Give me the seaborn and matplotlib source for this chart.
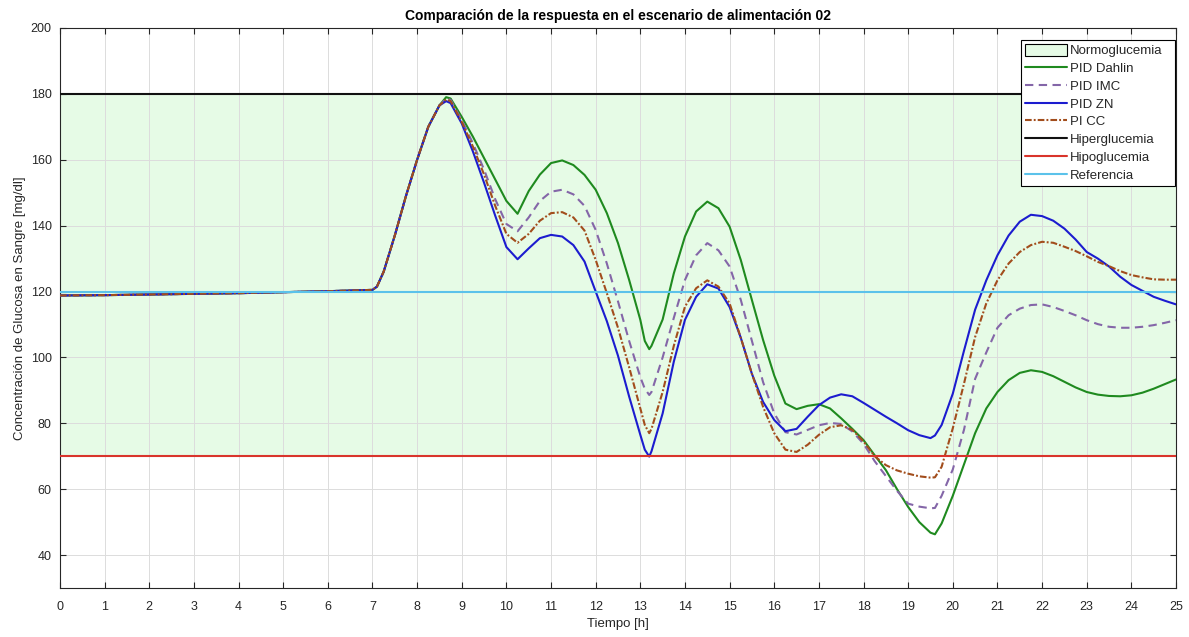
import matplotlib
matplotlib.use("Agg")
import matplotlib.pyplot as plt
import numpy as np
import pandas as pd
import seaborn as sns
from matplotlib.patches import Patch
from matplotlib.lines import Line2D

# Simulation time [h]
tiempo = [0, 1, 2, 3, 4, 5, 6, 7, 7.1,
          7.25, 7.5, 7.75, 8.0, 8.25, 8.5, 8.65,
          8.75, 9.0, 9.25, 9.5, 9.75, 10.0, 10.25, 10.5, 10.75, 11.0, 11.25, 11.5,
          11.75, 12.0, 12.25, 12.5, 12.75, 13.0, 13.1, 13.2,
          13.25, 13.5, 13.75, 14.0, 14.25, 14.5, 14.75, 15.0, 15.25, 15.5, 15.75,
          16.0, 16.25, 16.5, 16.75, 17.0, 17.25, 17.5, 17.75, 18.0, 18.25, 18.5,
          18.75, 19.0, 19.25, 19.5, 19.6,
          19.75, 20.0, 20.25, 20.5, 20.75, 21.0, 21.25, 21.5, 21.75, 22.0, 22.25,
          22.5, 22.75, 23.0, 23.25, 23.5, 23.75, 24.0, 24.25, 24.5, 24.75, 25.0]

# Blood glucose [mg/dl] for each controller
pid_dahlin = [118.8, 118.9, 119.1, 119.3, 119.5, 119.8, 120.1, 120.5, 121.5,
              126, 137, 149, 160, 170, 176.5, 179,
              178.6, 173, 167, 160.5, 154, 147.5, 143.6, 150.5, 155.5, 159, 159.8, 158.4,
              155.4, 150.9, 143.8, 134.7, 123.5, 111.4, 105, 102.5,
              103.5, 111.5, 125.5, 136.7, 144.3, 147.3, 145.3, 139.7, 129.6, 117.4, 105.3,
              94.5, 86, 84.3, 85.3, 85.8, 84.5, 81.5, 78.3, 74.9, 70.3, 65.8,
              60, 54.6, 50, 46.8, 46.3,
              49.6, 58, 67.5, 77, 84.5, 89.5, 93.1, 95.3, 96.1, 95.6, 94.3,
              92.6, 90.9, 89.5, 88.7, 88.3, 88.2, 88.5, 89.3, 90.5, 91.9, 93.3]

pid_imc = [118.8, 118.9, 119.1, 119.3, 119.5, 119.8, 120.1, 120.5, 121.5,
           126, 137, 149, 160, 170, 176.5, 178.6,
           178.2, 172, 165, 157, 148, 140.5, 138.3, 142.5, 147.5, 150.3, 150.9, 149.5,
           146, 138.7, 128.5, 117, 105, 94, 90.5, 88.6,
           89.5, 100, 112, 123.5, 131, 134.7, 132.5, 127.6, 117.5, 105, 92.5,
           83, 77.3, 76.6, 78, 79.4, 80.1, 79.8, 77.5, 73.8, 68.5, 64,
           59.5, 55.6, 54.7, 54.2, 54.3,
           58, 66, 78, 93.5, 101.5, 109, 112.8, 114.8, 115.9, 116.1, 115.3,
           114.1, 112.8, 111.3, 110.1, 109.3, 109, 109, 109.3, 109.8, 110.5, 111.3]

pid_zn = [118.8, 118.9, 119.1, 119.3, 119.5, 119.8, 120.1, 120.5, 121.5,
          126, 137, 149, 160, 170, 176.5, 177.8,
          177.2, 171, 162.5, 153, 143, 133.5, 129.8, 133.1, 136.2, 137.2, 136.7, 134.1,
          129.1, 120, 111, 100.5, 88.1, 76.5, 72, 69.9,
          71.5, 83, 98.7, 111.4, 118.4, 122.2, 120.9, 115.3, 106, 95, 86.5,
          81, 77.6, 78.3, 82, 85.5, 87.8, 88.8, 88.2, 86.2, 84.1, 82,
          80, 77.9, 76.4, 75.5, 76.3,
          79.5, 89, 102, 114.5, 123.4, 131, 137, 141.2, 143.3, 142.9, 141.5,
          139.1, 135.8, 132, 130, 127.6, 124.5, 122, 120.2, 118.4, 117.2, 116.1]

pi_cc = [118.8, 118.9, 119.1, 119.3, 119.5, 119.8, 120.1, 120.5, 121.5,
         126, 137, 149, 160, 170, 176.5, 178.3,
         177.8, 171.5, 164, 155.5, 146, 137.5, 134.8, 137.5, 141.5, 143.8, 144.1, 142.5,
         138.5, 129.6, 119.5, 109, 97, 84.5, 79.5, 77,
         78.3, 89.5, 103.5, 115.4, 121, 123.4, 121.5, 116.4, 106, 95, 85,
         77, 72, 71.3, 73.5, 76.5, 78.8, 79.4, 78, 74.5, 70, 67.3,
         65.7, 64.7, 63.9, 63.5, 63.6,
         66.8, 78.5, 92, 106.2, 116.4, 123.4, 128.5, 132, 134.1, 135.1, 134.8,
         133.6, 132.3, 130.7, 129, 127.7, 126.2, 125, 124.3, 123.7, 123.6, 123.6]

# Reference thresholds [mg/dl]
hiperglucemia = 180
hipoglucemia = 70
referencia = 120

x_ticks = list(range(0, 26))
y_ticks = [40, 60, 80, 100, 120, 140, 160, 180, 200]

sns.set_theme(style="whitegrid")
plt.rcParams["font.family"] = ["Liberation Sans", "DejaVu Sans"]

fig = plt.figure(figsize=(11.89, 6.37), dpi=100)
ax = fig.add_axes([60 / 1189, 49 / 637, 1116 / 1189, 560 / 637])
ax.set_facecolor("white")

# Normoglycemia band
norm_color = "#e6fbe6"
ax.axhspan(hipoglucemia, hiperglucemia, facecolor=norm_color, edgecolor="none", zorder=1)

curves = pd.DataFrame({
    "t": tiempo,
    "PID Dahlin": pid_dahlin,
    "PID IMC": pid_imc,
    "PID ZN": pid_zn,
    "PI CC": pi_cc,
})

styles = {
    "PID Dahlin": dict(color="#1f8a1f", linestyle="-"),
    "PID IMC": dict(color="#8466a8", linestyle=(0, (4, 2.6))),
    "PID ZN": dict(color="#1c1ccf", linestyle="-"),
    "PI CC": dict(color="#a24d1c", linestyle=(0, (3.2, 1.0, 0.9, 1.0))),
}

lw = 1.5
for name, st in styles.items():
    sns.lineplot(data=curves, x="t", y=name, ax=ax, color=st["color"],
                 linestyle=st["linestyle"], linewidth=lw, zorder=3,
                 sort=False, estimator=None)

ax.axhline(hiperglucemia, color="#111111", linewidth=lw, zorder=4)
ax.axhline(hipoglucemia, color="#d9342b", linewidth=lw, zorder=4)
ax.axhline(referencia, color="#5bc2ea", linewidth=lw, zorder=4)

ax.set_xlim(0, 25)
ax.set_ylim(30, 200)
ax.set_xticks(x_ticks)
ax.set_yticks(y_ticks)

ax.set_axisbelow("line")
ax.grid(True, color="#dcdcdc", linewidth=0.7)

dark = "#262626"
for side in ["left", "right", "top", "bottom"]:
    ax.spines[side].set_visible(True)
    ax.spines[side].set_color(dark)
    ax.spines[side].set_linewidth(0.8)
ax.tick_params(axis="both", direction="in", length=4, width=0.8, color=dark,
               labelcolor=dark, labelsize=9, top=True, right=True,
               bottom=True, left=True)
ax.tick_params(axis="y", pad=6)
ax.tick_params(axis="x", pad=9)

ax.set_xlabel("Tiempo [h]", fontsize=9.5, color=dark, labelpad=4)
ax.set_ylabel("Concentración de Glucosa en Sangre [mg/dl]", fontsize=9.5,
              color=dark, labelpad=3)
ax.set_title("Comparación de la respuesta en el escenario de alimentación 02",
             fontsize=10, fontweight="bold", color="black", pad=6)

handles = [
    Patch(facecolor=norm_color, edgecolor="black", linewidth=0.8, label="Normoglucemia"),
    Line2D([], [], color=styles["PID Dahlin"]["color"], lw=lw, label="PID Dahlin"),
    Line2D([], [], color=styles["PID IMC"]["color"], lw=lw,
           linestyle=styles["PID IMC"]["linestyle"], label="PID IMC"),
    Line2D([], [], color=styles["PID ZN"]["color"], lw=lw, label="PID ZN"),
    Line2D([], [], color=styles["PI CC"]["color"], lw=lw,
           linestyle=styles["PI CC"]["linestyle"], label="PI CC"),
    Line2D([], [], color="#111111", lw=lw, label="Hiperglucemia"),
    Line2D([], [], color="#d9342b", lw=lw, label="Hipoglucemia"),
    Line2D([], [], color="#5bc2ea", lw=lw, label="Referencia"),
]
leg_x0 = (1021 - 60) / 1116
leg_w = 154 / 1116
leg_top = 1 - 12 / 560
leg = ax.legend(handles=handles, loc="upper left",
                bbox_to_anchor=(leg_x0, 0, leg_w, leg_top), mode="expand",
                borderaxespad=0, fontsize=9.5, frameon=True, fancybox=False,
                framealpha=1, edgecolor="black", labelspacing=0.33,
                handlelength=3.2, handletextpad=0.2, borderpad=0.3,
                handleheight=1.0)
leg.get_frame().set_linewidth(0.8)
leg.set_zorder(10)

fig.savefig("out.png", dpi=100)
